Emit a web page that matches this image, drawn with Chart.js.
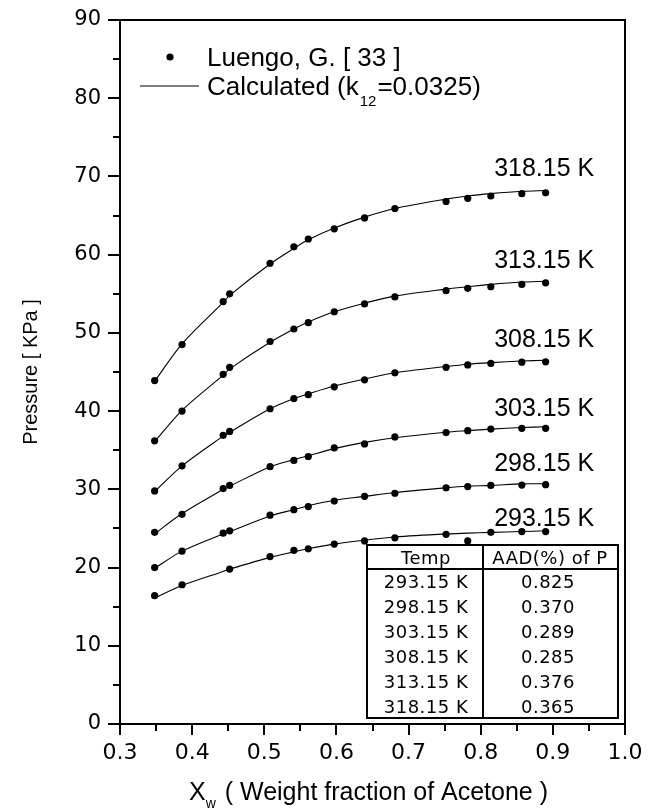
<!DOCTYPE html>
<html><head><meta charset="utf-8">
<script src="https://cdn.jsdelivr.net/npm/chart.js@4.4.1/dist/chart.umd.min.js"></script>
<style>
html,body{margin:0;padding:0;background:#fff;}
#wrap{position:relative;width:657px;height:809px;overflow:hidden;background:#fff;}
canvas{position:absolute;left:0;top:0;}
</style></head>
<body><div id="wrap"><canvas id="c" width="657" height="809"></canvas></div>
<script>
// ---- data ----
const X = [0.348, 0.386, 0.443, 0.452, 0.508, 0.541, 0.561, 0.597, 0.639, 0.681, 0.752, 0.782, 0.814, 0.857, 0.890];
const TEMPS = ['293.15 K', '298.15 K', '303.15 K', '308.15 K', '313.15 K', '318.15 K'];
// experimental points (Luengo, G. [33])
const P293 = [16.4, 17.8, null, 19.8, 21.4, 22.2, 22.4, 23.0, 23.4, 23.8, 24.25, 23.4, 24.5, 24.6, 24.6];
const P298 = [20.0, 22.1, 24.4, 24.7, 26.7, 27.4, 27.8, 28.5, 29.1, 29.5, 30.2, 30.35, 30.5, 30.55, 30.6];
const P303 = [24.5, 26.8, 30.1, 30.5, 32.9, 33.7, 34.2, 35.3, 35.8, 36.7, 37.25, 37.5, 37.7, 37.8, 37.8];
const P308 = [29.8, 33.0, 36.9, 37.4, 40.3, 41.6, 42.1, 43.1, 44.0, 44.9, 45.6, 45.9, 46.1, 46.25, 46.3];
const P313 = [36.2, 40.0, 44.7, 45.6, 48.9, 50.5, 51.3, 52.7, 53.7, 54.6, 55.4, 55.7, 55.9, 56.2, 56.4];
const P318 = [43.9, 48.5, 54.0, 55.0, 58.9, 61.0, 62.0, 63.3, 64.7, 65.9, 66.8, 67.2, 67.5, 67.8, 67.9];
// calculated curves (k12 = 0.0325)
const C293 = [16.1, 17.7, 19.5, 19.8, 21.3, 22.0, 22.4, 23.0, 23.5, 23.9, 24.3, 24.4, 24.5, 24.6, 24.7];
const C298 = [19.9, 22.1, 24.3, 24.6, 26.6, 27.4, 27.9, 28.6, 29.1, 29.6, 30.2, 30.4, 30.5, 30.7, 30.7];
const C303 = [24.3, 26.9, 30.0, 30.4, 32.9, 33.8, 34.3, 35.2, 36.0, 36.6, 37.3, 37.5, 37.7, 37.9, 38.0];
const C308 = [29.7, 33.0, 36.8, 37.3, 40.3, 41.6, 42.2, 43.2, 44.1, 44.9, 45.7, 46.0, 46.2, 46.4, 46.5];
const C313 = [36.1, 40.1, 44.6, 45.4, 48.8, 50.5, 51.4, 52.7, 53.8, 54.7, 55.6, 55.9, 56.2, 56.5, 56.6];
const C318 = [43.8, 48.6, 53.9, 54.8, 58.8, 60.8, 61.9, 63.4, 64.8, 65.9, 67.1, 67.5, 67.8, 68.1, 68.2];
// curve label anchors (value coordinates)
const LABEL_X = 0.888;
const LABEL_Y = [26.5, 33.5, 40.5, 49.4, 59.5, 71.2];
// AAD table
const AAD = ['0.825', '0.370', '0.289', '0.285', '0.376', '0.365'];
// ticks
const X_MINOR = [0.35, 0.45, 0.55, 0.65, 0.75, 0.85, 0.95];
const Y_MINOR = [5, 15, 25, 35, 45, 55, 65, 75, 85];

const PTS = [P293, P298, P303, P308, P313, P318];
const CALC = [C293, C298, C303, C308, C313, C318];
const pairs = arr => X.map((x, i) => ({x: x, y: arr[i]})).filter(p => p.y !== null);

const datasets = [];
TEMPS.forEach((t, i) => {
  datasets.push({label: 'Calculated ' + t, data: pairs(CALC[i]), borderColor: '#000', borderWidth: 1.1,
    pointRadius: 0, tension: 0.3, fill: false});
  datasets.push({label: 'Luengo ' + t, data: pairs(PTS[i]), showLine: false, pointRadius: 3.6,
    pointBackgroundColor: '#000', pointBorderColor: '#000', pointBorderWidth: 0});
});

const SANS = '"Liberation Sans", Arial, sans-serif';
const overlay = {
  id: 'overlay',
  afterDraw(chart) {
    const ctx = chart.ctx, a = chart.chartArea, sx = chart.scales.x, sy = chart.scales.y;
    ctx.save();
    ctx.strokeStyle = '#000'; ctx.fillStyle = '#000';
    ctx.lineWidth = 2;
    ctx.strokeRect(a.left, a.top, a.right - a.left, a.bottom - a.top);
    ctx.beginPath();
    Y_MINOR.forEach(v => { const p = Math.round(sy.getPixelForValue(v)); ctx.moveTo(a.left - 7, p); ctx.lineTo(a.left, p); });
    X_MINOR.forEach(v => { const p = Math.round(sx.getPixelForValue(v)); ctx.moveTo(p, a.bottom); ctx.lineTo(p, a.bottom + 7); });
    ctx.stroke();

    // curve labels
    ctx.font = '25px ' + SANS; ctx.textAlign = 'center'; ctx.textBaseline = 'alphabetic';
    TEMPS.forEach((t, i) => {
      ctx.fillText(t, sx.getPixelForValue(LABEL_X), sy.getPixelForValue(LABEL_Y[i]) + 0.358 * 25);
    });

    // legend
    ctx.textAlign = 'left';
    ctx.beginPath(); ctx.arc(170, 57, 3.6, 0, Math.PI * 2); ctx.fill();
    ctx.font = '26px ' + SANS;
    ctx.fillText('Luengo, G. [ 33 ]', 207, 66);
    ctx.lineWidth = 1.1;
    ctx.beginPath(); ctx.moveTo(140, 86); ctx.lineTo(199, 86); ctx.stroke();
    let xx = 207;
    ctx.fillText('Calculated (k', xx, 95); xx += ctx.measureText('Calculated (k').width + 1;
    ctx.font = '15px ' + SANS; ctx.fillText('12', xx, 106); xx += ctx.measureText('12').width + 1;
    ctx.font = '26px ' + SANS; ctx.fillText('=0.0325)', xx, 95);

    // table
    const tl = 367, tt = 545, tr = 618, tb = 718, tc = 483, th = 569;
    ctx.fillStyle = '#fff'; ctx.fillRect(tl, tt, tr - tl, tb - tt); ctx.fillStyle = '#000';
    ctx.lineWidth = 2;
    ctx.strokeRect(tl, tt, tr - tl, tb - tt);
    ctx.beginPath(); ctx.moveTo(tc, tt); ctx.lineTo(tc, tb); ctx.moveTo(tl, th); ctx.lineTo(tr, th); ctx.stroke();
    ctx.font = '18px "DejaVu Sans", sans-serif'; ctx.textAlign = 'center';
    try { ctx.letterSpacing = '0.5px'; } catch (e) {}
    ctx.fillText('Temp', 426, 564);
    ctx.fillText('AAD(%) of P', 550, 564);
    const rowH = (tb - th) / 6;
    TEMPS.forEach((t, i) => {
      const yb = th + rowH * (i + 0.5) + 7;
      ctx.fillText(t, 426, yb);
      ctx.fillText(AAD[i], 548, yb);
    });
    try { ctx.letterSpacing = '0px'; } catch (e) {}

    // axis titles
    ctx.textAlign = 'left';
    ctx.font = '25px ' + SANS;
    let x0 = 189;
    ctx.fillText('X', x0, 800); x0 += ctx.measureText('X').width;
    ctx.font = '14px ' + SANS; ctx.fillText('w', x0, 808); x0 += ctx.measureText('w').width + 2;
    ctx.font = '25px ' + SANS; ctx.fillText(' ( Weight fraction of Acetone )', x0, 800);

    ctx.translate(31, 372); ctx.rotate(-Math.PI / 2);
    ctx.font = '20px ' + SANS; ctx.textAlign = 'center'; ctx.textBaseline = 'middle';
    ctx.fillText('Pressure [ KPa ]', 0, 0);
    ctx.restore();
  }
};

new Chart(document.getElementById('c'), {
  type: 'line',
  data: {datasets: datasets},
  options: {
    responsive: false, animation: false, devicePixelRatio: 1,
    layout: {padding: {left: 0, right: 32, top: 20, bottom: 0}},
    plugins: {legend: {display: false}, tooltip: {enabled: false}},
    scales: {
      x: {type: 'linear', min: 0.3, max: 1.0,
        ticks: {stepSize: 0.1, callback: v => v.toFixed(1), color: '#000', padding: 5, maxRotation: 0, autoSkip: false,
          font: {family: '"DejaVu Sans", sans-serif', size: 22}},
        grid: {drawOnChartArea: false, drawTicks: true, tickLength: 11, color: '#000', lineWidth: 2},
        border: {display: true, color: '#000', width: 2},
        afterFit: s => { s.height = 85; }},
      y: {type: 'linear', min: 0, max: 90,
        ticks: {stepSize: 10, color: '#000', padding: 7, font: {family: '"DejaVu Sans", sans-serif', size: 21}},
        grid: {drawOnChartArea: false, drawTicks: true, tickLength: 12, color: '#000', lineWidth: 2},
        border: {display: true, color: '#000', width: 2},
        afterFit: s => { s.width = 120; }}
    }
  },
  plugins: [overlay]
});
</script></body></html>
